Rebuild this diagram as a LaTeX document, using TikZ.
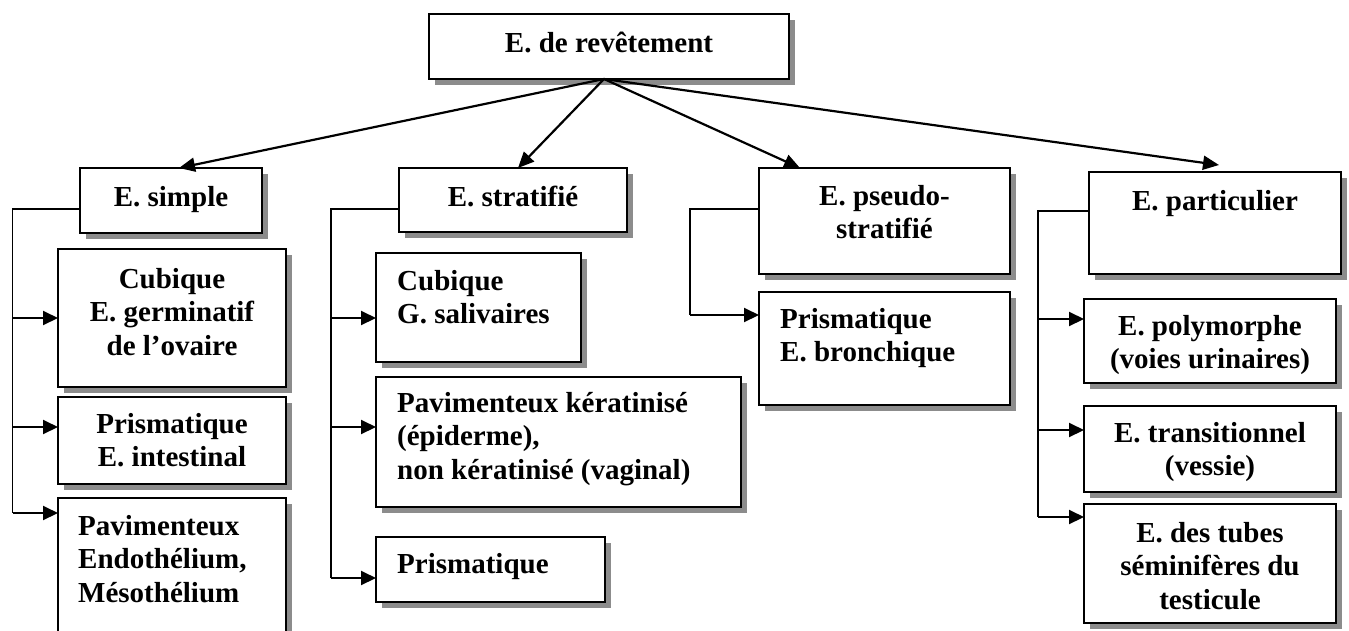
\documentclass[tikz,border=0pt]{standalone}
\usepackage{fontspec}
\setmainfont{Liberation Serif}
\usetikzlibrary{arrows.meta,shadows,calc}
\tikzset{
 box/.style={draw=black, line width=1.5pt, fill=white, inner sep=0pt, outer sep=0pt, anchor=north west,
   drop shadow={shadow xshift=6pt, shadow yshift=-6pt, fill=black!45, opacity=1, draw=none}},
 ctxt/.style={inner sep=0pt, anchor=base, font=\bfseries\fontsize{29}{33.5}\selectfont},
 ltxt/.style={inner sep=0pt, anchor=base west, font=\bfseries\fontsize{29}{33.5}\selectfont},
 conn/.style={line width=1.3pt},
 arr/.style={line width=2pt, -{Triangle[length=15pt,width=14pt]}},
 bigarr/.style={line width=2.2pt, -{Triangle[length=16pt,width=14pt]}},
}
\newcommand\mybox[5]{\node[box, minimum width={#4pt-#2pt}, minimum height={#5pt-#3pt}] (#1) at (#2,#3) {};}
\begin{document}
\begin{tikzpicture}[x=1pt,y=-1pt]
\path[use as bounding box] (0,0) rectangle (1349,630);
\clip (0,0) rectangle (1349,630);
% boxes
\mybox{top}{429}{14}{789}{79}
\mybox{s}{80}{168}{262}{233}
\mybox{st}{399}{168}{627}{232}
\mybox{ps}{759}{168}{1010}{274}
\mybox{pa}{1089}{172}{1341}{274}
\mybox{c1}{58}{249}{286}{387}
\mybox{c2}{58}{397}{286}{484}
\mybox{c3}{58}{498}{286}{660}
\mybox{d1}{376}{253}{581}{362}
\mybox{d2}{376}{377}{741}{507}
\mybox{d3}{376}{537}{605}{602}
\mybox{p1}{759}{292}{1010}{405}
\mybox{q1}{1084}{299}{1336}{383}
\mybox{q2}{1084}{406}{1336}{492}
\mybox{q3}{1084}{504}{1336}{623}
% top arrows
\coordinate (o) at (604,79);
\draw[bigarr] (o) -- ($(s.north)+(8,0)$);
\draw[bigarr] (o) -- ($(st.north)+(5,0)$);
\draw[bigarr] (o) -- ($(ps.north)+(-84.5,0)$);
\draw[bigarr] (o) -- ($(pa.north)+(4,-7)$);
% simple
\coordinate (sA) at (12.5,209);
\coordinate (sB) at (12.5,513);
\draw[conn] (s.west |- sA) -- (sA) -- (sB);
\draw[arr] (sA |- {$(c1.north west)+(0,69)$}) -- ($(c1.north west)+(0,69)$);
\draw[arr] (sA |- {$(c2.north west)+(0,30)$}) -- ($(c2.north west)+(0,30)$);
\draw[arr] (sB) -- (sB -| c3.west);
% stratifie
\coordinate (tA) at (331,209);
\coordinate (tB) at (331,578);
\draw[conn] (st.west |- tA) -- (tA) -- (tB);
\draw[arr] (tA |- {$(d1.north west)+(0,65)$}) -- ($(d1.north west)+(0,65)$);
\draw[arr] (tA |- {$(d2.north west)+(0,50)$}) -- ($(d2.north west)+(0,50)$);
\draw[arr] (tB) -- (tB -| d3.west);
% pseudo
\coordinate (pA) at (690,209);
\coordinate (pB) at (690,315);
\draw[conn] (ps.west |- pA) -- (pA) -- (pB);
\draw[arr] (pB) -- (pB -| p1.west);
% particulier
\coordinate (qA) at (1038,211);
\coordinate (qB) at (1038,517);
\draw[conn] (pa.west |- qA) -- (qA) -- (qB);
\draw[arr] (qA |- {$(q1.north west)+(0,20)$}) -- ($(q1.north west)+(0,20)$);
\draw[arr] (qA |- {$(q2.north west)+(0,24)$}) -- ($(q2.north west)+(0,24)$);
\draw[arr] (qB) -- (qB -| q3.west);
% texts
\node[ctxt] (top-t) at (609,52) {E. de revêtement};
\node[ctxt] (s-t) at (171,206) {E. simple};
\node[ctxt] (st-t) at (513,206) {E. stratifié};
\node[ctxt] (ps-t) at (884.5,205) {\parbox[t]{240pt}{\centering E. pseudo-\\stratifié}};
\node[ctxt] (pa-t) at (1215,210) {E. particulier};
\node[ctxt] (c1-t) at (172,288) {\parbox[t]{220pt}{\centering Cubique\\E. germinatif\\de l’ovaire}};
\node[ctxt] (c2-t) at (172,433) {\parbox[t]{220pt}{\centering Prismatique\\E. intestinal}};
\node[ltxt] (c3-t) at (78,535) {\parbox[t]{220pt}{\raggedright Pavimenteux\\Endothélium,\\Mésothélium}};
\node[ltxt] (d1-t) at (397,290) {\parbox[t]{200pt}{\raggedright Cubique\\G. salivaires}};
\node[ltxt] (d2-t) at (397,412) {\parbox[t]{340pt}{\raggedright Pavimenteux kératinisé\\(épiderme),\\non kératinisé (vaginal)}};
\node[ltxt] (d3-t) at (397,573) {Prismatique};
\node[ltxt] (p1-t) at (780,328) {\parbox[t]{220pt}{\raggedright Prismatique\\E. bronchique}};
\node[ctxt] (q1-t) at (1210,335) {\parbox[t]{245pt}{\centering E. polymorphe\\(voies urinaires)}};
\node[ctxt] (q2-t) at (1210,442) {\parbox[t]{245pt}{\centering E. transitionnel\\(vessie)}};
\node[ctxt] (q3-t) at (1210,542) {\parbox[t]{245pt}{\centering E. des tubes\\séminifères du\\testicule}};
\end{tikzpicture}
\end{document}
